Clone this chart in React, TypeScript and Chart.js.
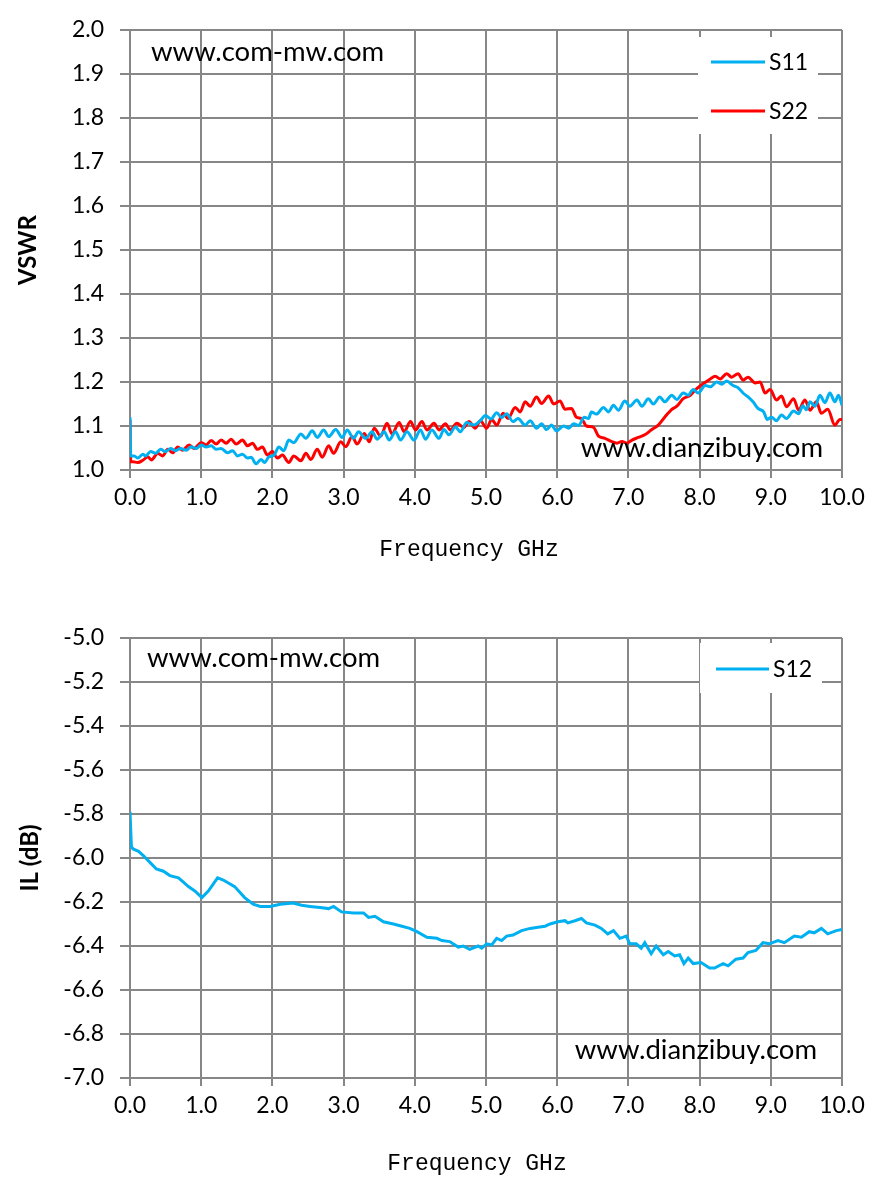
import { useEffect, useRef } from "react";
import { Chart, registerables } from "chart.js";

Chart.register(...registerables);

// ---------- Top chart: VSWR ----------
const S11_FREQ = [0, 0.01, 0.06, 0.11, 0.18, 0.22, 0.29, 0.36, 0.43, 0.5, 0.57, 0.64, 0.71, 0.79, 0.86, 0.93, 1.0, 1.07, 1.14, 1.21, 1.28, 1.37, 1.44, 1.51, 1.58, 1.65, 1.7, 1.77, 1.84, 1.89, 1.95, 2.02, 2.09, 2.16, 2.23, 2.3, 2.4, 2.47, 2.56, 2.63, 2.72, 2.79, 2.89, 2.98, 3.05, 3.14, 3.21, 3.31, 3.4, 3.47, 3.57, 3.64, 3.73, 3.8, 3.89, 3.99, 4.08, 4.15, 4.24, 4.34, 4.41, 4.48, 4.57, 4.64, 4.73, 4.83, 4.92, 4.99, 5.07, 5.15, 5.22, 5.29, 5.38, 5.45, 5.55, 5.62, 5.71, 5.78, 5.85, 5.92, 5.99, 6.09, 6.16, 6.23, 6.3, 6.38, 6.44, 6.48, 6.55, 6.65, 6.72, 6.79, 6.86, 6.95, 7.02, 7.12, 7.19, 7.28, 7.35, 7.44, 7.51, 7.61, 7.68, 7.77, 7.84, 7.91, 7.98, 8.08, 8.15, 8.24, 8.31, 8.38, 8.47, 8.54, 8.61, 8.68, 8.75, 8.82, 8.9, 8.95, 9.01, 9.08, 9.15, 9.22, 9.32, 9.39, 9.45, 9.5, 9.55, 9.62, 9.69, 9.76, 9.83, 9.9, 9.95, 10.0];
const S11 = [1.12, 1.032, 1.032, 1.027, 1.036, 1.032, 1.042, 1.038, 1.047, 1.042, 1.049, 1.044, 1.049, 1.045, 1.053, 1.049, 1.057, 1.052, 1.055, 1.047, 1.049, 1.039, 1.044, 1.032, 1.036, 1.027, 1.029, 1.014, 1.024, 1.017, 1.03, 1.033, 1.052, 1.044, 1.068, 1.062, 1.082, 1.072, 1.089, 1.074, 1.091, 1.076, 1.092, 1.074, 1.091, 1.072, 1.087, 1.072, 1.087, 1.07, 1.087, 1.068, 1.087, 1.068, 1.087, 1.068, 1.091, 1.07, 1.091, 1.072, 1.092, 1.08, 1.098, 1.087, 1.108, 1.102, 1.112, 1.124, 1.116, 1.13, 1.119, 1.128, 1.11, 1.117, 1.102, 1.112, 1.095, 1.105, 1.092, 1.102, 1.089, 1.1, 1.095, 1.105, 1.101, 1.12, 1.117, 1.132, 1.127, 1.142, 1.132, 1.147, 1.136, 1.157, 1.145, 1.159, 1.145, 1.162, 1.15, 1.166, 1.155, 1.17, 1.16, 1.175, 1.17, 1.183, 1.175, 1.192, 1.189, 1.2, 1.195, 1.202, 1.192, 1.187, 1.175, 1.166, 1.155, 1.14, 1.132, 1.115, 1.12, 1.112, 1.125, 1.117, 1.134, 1.128, 1.146, 1.137, 1.155, 1.145, 1.17, 1.153, 1.175, 1.155, 1.17, 1.147];

const S22_FREQ = [0, 0.01, 0.04, 0.11, 0.18, 0.25, 0.3, 0.39, 0.46, 0.53, 0.6, 0.67, 0.74, 0.83, 0.9, 1.0, 1.07, 1.14, 1.21, 1.28, 1.35, 1.42, 1.49, 1.58, 1.65, 1.72, 1.79, 1.86, 1.93, 2.0, 2.07, 2.14, 2.23, 2.3, 2.4, 2.47, 2.54, 2.63, 2.7, 2.79, 2.86, 2.96, 3.03, 3.12, 3.19, 3.29, 3.36, 3.43, 3.52, 3.61, 3.68, 3.78, 3.85, 3.94, 4.01, 4.1, 4.17, 4.27, 4.34, 4.43, 4.5, 4.59, 4.69, 4.76, 4.85, 4.92, 5.01, 5.08, 5.15, 5.24, 5.31, 5.41, 5.48, 5.55, 5.62, 5.71, 5.78, 5.88, 5.95, 6.04, 6.11, 6.2, 6.27, 6.34, 6.41, 6.51, 6.58, 6.67, 6.76, 6.84, 6.91, 6.98, 7.05, 7.14, 7.23, 7.33, 7.42, 7.51, 7.61, 7.68, 7.77, 7.87, 7.96, 8.05, 8.15, 8.22, 8.29, 8.38, 8.45, 8.54, 8.61, 8.68, 8.78, 8.85, 8.92, 8.99, 9.08, 9.15, 9.22, 9.32, 9.39, 9.48, 9.55, 9.64, 9.71, 9.8, 9.9, 9.97, 10.0];
const S22 = [1.114, 1.019, 1.019, 1.017, 1.022, 1.03, 1.023, 1.038, 1.032, 1.047, 1.039, 1.052, 1.045, 1.057, 1.049, 1.062, 1.057, 1.067, 1.059, 1.068, 1.061, 1.07, 1.059, 1.068, 1.055, 1.061, 1.047, 1.052, 1.034, 1.042, 1.027, 1.034, 1.017, 1.032, 1.021, 1.038, 1.024, 1.047, 1.029, 1.055, 1.038, 1.064, 1.053, 1.076, 1.059, 1.083, 1.064, 1.095, 1.077, 1.106, 1.082, 1.108, 1.087, 1.11, 1.091, 1.11, 1.091, 1.106, 1.091, 1.105, 1.091, 1.106, 1.097, 1.11, 1.095, 1.112, 1.095, 1.115, 1.102, 1.129, 1.117, 1.142, 1.132, 1.155, 1.145, 1.166, 1.151, 1.168, 1.15, 1.157, 1.138, 1.14, 1.12, 1.117, 1.1, 1.097, 1.077, 1.072, 1.065, 1.061, 1.065, 1.061, 1.068, 1.074, 1.08, 1.092, 1.102, 1.12, 1.138, 1.145, 1.162, 1.17, 1.185, 1.196, 1.207, 1.213, 1.207, 1.219, 1.211, 1.219, 1.204, 1.211, 1.198, 1.2, 1.175, 1.183, 1.159, 1.168, 1.144, 1.162, 1.136, 1.159, 1.136, 1.155, 1.129, 1.138, 1.102, 1.115, 1.115];

// ---------- Bottom chart: insertion loss ----------
const S12_FREQ = [0, 0.02, 0.05, 0.12, 0.19, 0.28, 0.37, 0.47, 0.56, 0.68, 0.75, 0.82, 0.91, 1.01, 1.1, 1.23, 1.31, 1.47, 1.61, 1.73, 1.83, 1.97, 2.11, 2.29, 2.41, 2.53, 2.67, 2.79, 2.86, 2.97, 3.14, 3.28, 3.35, 3.44, 3.56, 3.7, 3.82, 3.93, 4.03, 4.17, 4.31, 4.38, 4.49, 4.61, 4.68, 4.77, 4.89, 4.94, 5.01, 5.08, 5.15, 5.22, 5.29, 5.38, 5.5, 5.62, 5.73, 5.83, 5.9, 6.01, 6.11, 6.15, 6.25, 6.34, 6.41, 6.53, 6.62, 6.71, 6.79, 6.88, 6.97, 7.02, 7.11, 7.18, 7.23, 7.32, 7.39, 7.49, 7.56, 7.65, 7.72, 7.78, 7.84, 7.91, 8.02, 8.14, 8.21, 8.33, 8.4, 8.51, 8.61, 8.68, 8.79, 8.89, 8.98, 9.1, 9.19, 9.33, 9.43, 9.54, 9.61, 9.71, 9.8, 9.92, 10.0];
const S12 = [-5.79, -5.95, -5.96, -5.97, -5.99, -6.02, -6.05, -6.06, -6.08, -6.09, -6.11, -6.13, -6.15, -6.18, -6.15, -6.09, -6.1, -6.13, -6.18, -6.21, -6.22, -6.22, -6.21, -6.205, -6.215, -6.22, -6.225, -6.23, -6.22, -6.245, -6.25, -6.25, -6.27, -6.265, -6.29, -6.3, -6.31, -6.32, -6.335, -6.36, -6.365, -6.375, -6.38, -6.405, -6.4, -6.415, -6.4, -6.41, -6.39, -6.395, -6.365, -6.375, -6.355, -6.35, -6.33, -6.32, -6.315, -6.31, -6.3, -6.29, -6.285, -6.295, -6.285, -6.275, -6.295, -6.305, -6.32, -6.345, -6.33, -6.365, -6.355, -6.39, -6.39, -6.41, -6.385, -6.435, -6.4, -6.44, -6.425, -6.445, -6.44, -6.48, -6.455, -6.48, -6.475, -6.5, -6.5, -6.48, -6.49, -6.46, -6.455, -6.43, -6.42, -6.385, -6.39, -6.375, -6.385, -6.355, -6.36, -6.335, -6.34, -6.32, -6.345, -6.33, -6.325];

const X_TITLE = "Frequency GHz";
const WATERMARK_TOP = "www.com-mw.com";
const WATERMARK_BOTTOM = "www.dianzibuy.com";

const BLUE = "#00B0F0";
const RED = "#FF0000";
const GRID = "#878787";
const TICK_FONT = { family: "Lato", size: 23 };

const pairs = (xs: number[], ys: number[]) => xs.map((x, i) => ({ x, y: ys[i] }));

const overlayPlugin = {
  id: "overlay",
  afterDraw(chart: any, _args: any, opts: any) {
    const { ctx, chartArea: ca } = chart;
    ctx.save();
    // axis title (drawn here to allow a horizontal offset)
    ctx.fillStyle = "#000";
    ctx.font = "23px 'Liberation Mono'";
    ctx.textAlign = "center";
    ctx.textBaseline = "middle";
    ctx.fillText(opts.xTitle.text, (ca.left + ca.right) / 2 + opts.xTitle.dx, ca.bottom + opts.xTitle.dy);
    // watermarks
    ctx.font = "27.5px Lato";
    ctx.textBaseline = "alphabetic";
    for (const m of opts.marks) {
      ctx.textAlign = m.align;
      const x = m.align === "left" ? ca.left + m.dx : ca.right - m.dx;
      const y = m.fromTop ? ca.top + m.dy : ca.bottom - m.dy;
      ctx.fillText(m.text, x, y);
    }
    // legend
    const L = opts.legend;
    const bx = ca.right - L.right - L.w;
    const by = ca.top + L.top;
    ctx.fillStyle = "#fff";
    ctx.fillRect(bx, by, L.w, L.h);
    chart.data.datasets.forEach((ds: any, i: number) => {
      const y = by + L.row0 + i * L.gap;
      ctx.strokeStyle = ds.borderColor;
      ctx.lineWidth = 3;
      ctx.beginPath();
      ctx.moveTo(bx + L.lineX, y);
      ctx.lineTo(bx + L.lineX + L.lineLen, y);
      ctx.stroke();
      ctx.fillStyle = "#000";
      ctx.font = "23px Lato";
      ctx.textAlign = "left";
      ctx.textBaseline = "middle";
      ctx.fillText(ds.label, bx + L.textX, y + 1);
    });
    ctx.restore();
  },
};

function makeOptions(p: {
  yMin: number; yMax: number; yStep: number; yTitle: string; yTitlePad: number;
  xHeight: number; top: number; overlay: any;
}) {
  return {
    responsive: false,
    animation: false as const,
    layout: { padding: { left: 0, right: 43, top: p.top, bottom: 0 } },
    plugins: {
      legend: { display: false },
      tooltip: { enabled: false },
      overlay: p.overlay,
    },
    elements: { point: { radius: 0 } },
    scales: {
      x: {
        type: "linear" as const,
        min: 0,
        max: 10,
        afterFit: (s: any) => { s.height = p.xHeight; },
        border: { display: true, color: GRID, width: 2 },
        grid: { color: GRID, lineWidth: 2, tickLength: 8, tickColor: GRID },
        ticks: {
          stepSize: 1,
          color: "#000",
          font: TICK_FONT,
          padding: 6,
          maxRotation: 0,
          callback: (v: any) => Number(v).toFixed(1),
        },
        title: { display: false, text: X_TITLE },
      },
      y: {
        min: p.yMin,
        max: p.yMax,
        afterFit: (s: any) => { s.width = 130; },
        border: { display: true, color: GRID, width: 2 },
        grid: { color: GRID, lineWidth: 2, tickLength: 10, tickColor: GRID },
        ticks: {
          stepSize: p.yStep,
          color: "#000",
          font: TICK_FONT,
          padding: 16,
          callback: (v: any) => Number(v).toFixed(1),
        },
        title: {
          display: true,
          text: p.yTitle,
          color: "#000",
          font: { family: "Lato", size: 24, weight: "bold" as const },
          padding: { top: p.yTitlePad, bottom: 0 },
        },
      },
    },
  };
}

function ChartCanvas({ config, width, height }: { config: any; width: number; height: number }) {
  const ref = useRef<HTMLCanvasElement | null>(null);
  useEffect(() => {
    if (!ref.current) return;
    const chart = new Chart(ref.current, config);
    return () => chart.destroy();
  }, [config]);
  return <canvas ref={ref} width={width} height={height} style={{ width, height, display: "block" }} />;
}

const vswrConfig = {
  type: "line",
  data: {
    datasets: [
      { label: "S11", data: pairs(S11_FREQ, S11), borderColor: BLUE, backgroundColor: BLUE, borderWidth: 3, cubicInterpolationMode: "monotone", fill: false },
      { label: "S22", data: pairs(S22_FREQ, S22), borderColor: RED, backgroundColor: RED, borderWidth: 3, cubicInterpolationMode: "monotone", fill: false },
    ],
  },
  options: makeOptions({
    yMin: 1.0, yMax: 2.0, yStep: 0.1, yTitle: "VSWR", yTitlePad: 14,
    xHeight: 130, top: 30,
    overlay: {
      xTitle: { text: X_TITLE, dx: -17, dy: 80 },
      marks: [
        { text: WATERMARK_TOP, align: "left", dx: 21, dy: 31, fromTop: true },
        { text: WATERMARK_BOTTOM, align: "right", dx: 19, dy: 13, fromTop: false },
      ],
      legend: { right: 24, w: 120, top: 7, h: 97, row0: 25, gap: 49, lineX: 13, lineLen: 54, textX: 71 },
    },
  }),
  plugins: [overlayPlugin],
};

const ilConfig = {
  type: "line",
  data: {
    datasets: [
      { label: "S12", data: pairs(S12_FREQ, S12), borderColor: BLUE, backgroundColor: BLUE, borderWidth: 3, tension: 0, fill: false },
    ],
  },
  options: makeOptions({
    yMin: -7.0, yMax: -5.0, yStep: 0.2, yTitle: "IL (dB)", yTitlePad: 16,
    xHeight: 115, top: 38,
    overlay: {
      xTitle: { text: X_TITLE, dx: -9, dy: 86 },
      marks: [
        { text: WATERMARK_TOP, align: "left", dx: 17, dy: 29, fromTop: true },
        { text: WATERMARK_BOTTOM, align: "right", dx: 25, dy: 19, fromTop: false },
      ],
      legend: { right: 20, w: 122, top: 5, h: 50, row0: 26, gap: 49, lineX: 16, lineLen: 53, textX: 73 },
    },
  }),
  plugins: [overlayPlugin],
};

export default function App() {
  return (
    <div style={{ position: "absolute", left: 0, top: 0, width: 885, height: 1193, background: "#fff" }}>
      <div style={{ position: "absolute", left: 0, top: 0 }}>
        <ChartCanvas config={vswrConfig} width={885} height={600} />
      </div>
      <div style={{ position: "absolute", left: 0, top: 600 }}>
        <ChartCanvas config={ilConfig} width={885} height={593} />
      </div>
    </div>
  );
}
